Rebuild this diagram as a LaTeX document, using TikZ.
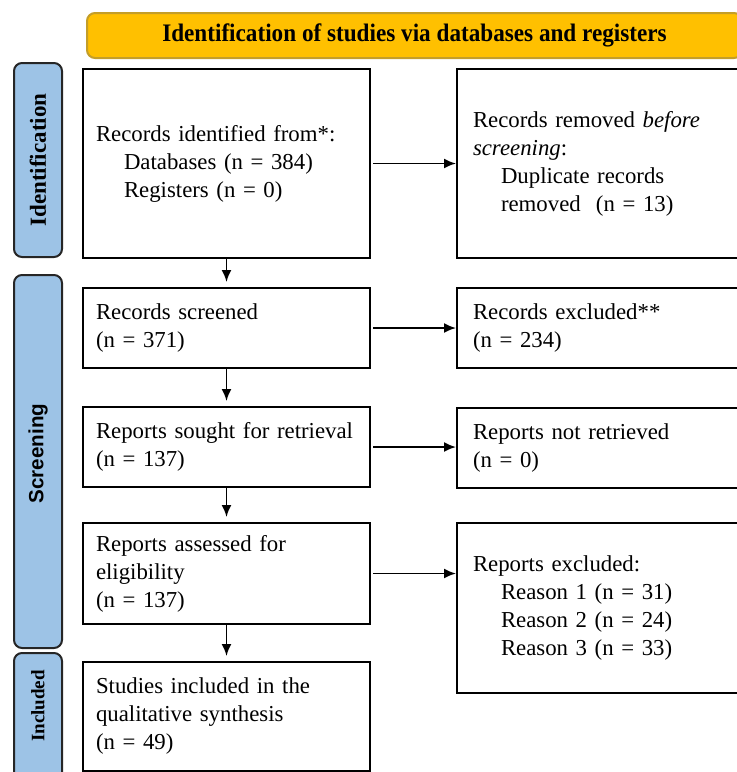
\documentclass[tikz,border=0pt]{standalone}
\usepackage{fontspec}
\setmainfont{Liberation Serif}
\setsansfont{Liberation Sans}
\usetikzlibrary{positioning,arrows.meta}
\definecolor{bannerorange}{RGB}{255,192,0}
\definecolor{bannerline}{RGB}{196,158,40}
\definecolor{phaseblue}{RGB}{157,195,230}

\begin{document}
\begin{tikzpicture}[x=0.5pt,y=-0.5pt,
    >={Latex[length=6pt,width=5pt]},
    leftbox/.style={draw=black, line width=1pt, rectangle, align=left,
        inner xsep=6.5pt, text width=130.5pt,
        font=\fontsize{11.4}{14}\selectfont},
    rightbox/.style={draw=black, line width=1pt, rectangle, align=left,
        inner xsep=8pt, text width=128pt,
        font=\fontsize{11.4}{14}\selectfont},
    phase/.style={draw=black!85, line width=1pt, fill=phaseblue,
        rounded corners=4pt, rotate=90, minimum height=24pt, inner sep=0pt},
    arr/.style={->, line width=0.9pt}]
    \useasboundingbox (0,0) rectangle (737,772);
    \clip (0,0) rectangle (737,772);

    % Banner
    \node[draw=bannerline, line width=1pt, fill=bannerorange, rounded corners=4pt,
        minimum width=327.5pt, minimum height=22.5pt, inner sep=0pt,
        font=\bfseries\fontsize{12.6}{14}\selectfont] (banner) at (414.5,35.5)
        {\scalebox{0.92}[1]{Identification of studies via databases and registers}};

    % Phases
    \node[phase, minimum width=97pt, font=\bfseries\fontsize{11.5}{14}\selectfont]
        (pident) at (38,160) {Identification};
    \node[phase, minimum width=186.5pt, font=\sffamily\bfseries\fontsize{10.3}{12}\selectfont]
        (pscreen) at (38,461.5) {\hspace*{8pt}Screening};
    \node[phase, minimum width=66pt, font=\bfseries\fontsize{9.5}{11}\selectfont]
        (pincl) at (38,719) {\hspace*{13pt}Included};

    % Left column
    \node[leftbox, minimum height=94.5pt] (ident) at (226.5,163.5)
        {Records identified from*:\\
        \hspace*{14pt}Databases (n = 384)\\
        \hspace*{14pt}Registers (n = 0)};
    \node[leftbox, minimum height=40pt] (screened) at (226.5,328)
        {Records screened\\(n = 371)};
    \node[leftbox, minimum height=40pt] (sought) at (226.5,447)
        {Reports sought for retrieval\\(n = 137)};
    \node[leftbox, minimum height=50.5pt] (assessed) at (226.5,573.5)
        {Reports assessed for\\eligibility\\(n = 137)};
    \node[leftbox, minimum height=54.5pt] (included) at (226.5,716.5)
        {Studies included in the\\qualitative synthesis\\(n = 49)};

    % Right column
    \node[rightbox, minimum height=94.5pt] (removed) at (601,163.5)
        {Records removed \textit{before}\\
        \textit{screening}:\\
        \hspace*{14pt}Duplicate records\\
        \hspace*{14pt}removed\ \ (n = 13)};
    \node[rightbox, minimum height=40pt] (excluded) at (601,328)
        {Records excluded**\\(n = 234)};
    \node[rightbox, minimum height=40pt] (notretr) at (601,448)
        {Reports not retrieved\\(n = 0)};
    \node[rightbox, minimum height=85pt] (repexcl) at (601,608)
        {Reports excluded:\\
        \hspace*{14pt}Reason 1 (n = 31)\\
        \hspace*{14pt}Reason 2 (n = 24)\\
        \hspace*{14pt}Reason 3 (n = 33)};

    % Flow
    \draw[arr, shorten <=1pt] (ident.east) -- (removed.west);
    \draw[arr, shorten <=1pt] (screened.east) -- (excluded.west |- screened.east);
    \draw[arr, shorten <=1pt] (sought.east) -- (notretr.west |- sought.east);
    \draw[arr, shorten <=1pt] (assessed.east) -- (repexcl.west |- assessed.east);

    \draw[arr, shorten >=2.5pt] (ident) -- (screened);
    \draw[arr, shorten >=2.5pt] (screened) -- (sought);
    \draw[arr, shorten >=2.5pt] (sought) -- (assessed);
    \draw[arr, shorten >=2.5pt] (assessed) -- (included);
\end{tikzpicture}
\end{document}
